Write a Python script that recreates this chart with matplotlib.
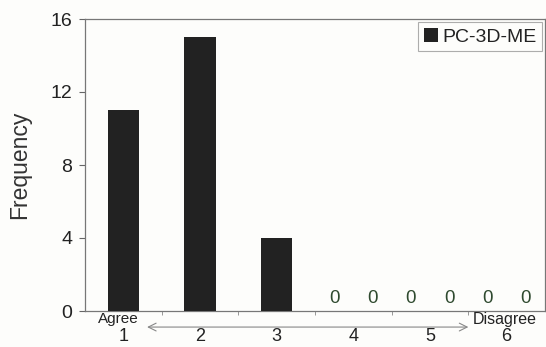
import matplotlib
matplotlib.use("Agg")
import matplotlib.pyplot as plt
import numpy as np

categories = [1, 2, 3, 4, 5, 6]
cat_labels = ["1", "2", "3", "4", "5", "6"]
values = [11, 15, 4, 0, 0, 0]
series_name = "PC-3D-ME"
zero_label_positions = [3.75, 4.25, 4.75, 5.25, 5.75, 6.25]
zero_labels = ["0", "0", "0", "0", "0", "0"]
yticks = [0, 4, 8, 12, 16]

plt.rcParams['font.family'] = ['Liberation Sans', 'DejaVu Sans']

fig = plt.figure(figsize=(5.46, 3.47), dpi=100, facecolor='#fdfdfb')
ax = fig.add_axes([85/546, 1-311/347, (545-85)/546, (311-19)/347])
ax.set_facecolor('#fdfdfb')

bars = [(c, v) for c, v in zip(categories, values) if v > 0]
ax.bar([b[0] for b in bars], [b[1] for b in bars], width=0.41,
       color='#222222', label=series_name, zorder=3)

for xp, t in zip(zero_label_positions, zero_labels):
    ax.text(xp, 0.2, t, ha='center', va='bottom', fontsize=13.5,
            color='#2f4a2f')

ax.set_xlim(0.5, 6.5)
ax.set_ylim(0, 16)
ax.set_yticks(yticks)
ax.set_xticks(categories)
ax.set_xticklabels(cat_labels, fontsize=13, color='#222222')
ax.set_xticks(np.arange(1.5, 6.5, 1.0), minor=True)
ax.tick_params(axis='x', which='major', length=0, pad=12.4)
ax.tick_params(axis='x', which='minor', length=3, color='#888888', direction='out')
ax.tick_params(axis='y', which='major', length=4, color='#666666', labelsize=14,
               labelcolor='#222222', pad=5)
for s in ax.spines.values():
    s.set_color('#777777')
    s.set_linewidth(0.9)

ax.set_ylabel("Frequency", fontsize=16.5, color='#333333', labelpad=14)

tr = ax.get_xaxis_transform()
ax.text(0.93, -0.005, "Agree", transform=tr, ha='center', va='top',
        fontsize=11, color='#222222', clip_on=False)
ax.text(5.98, -0.005, "Disagree", transform=tr, ha='center', va='top',
        fontsize=11.5, color='#222222', clip_on=False)
ax.annotate("", xy=(5.5, -0.055), xytext=(1.31, -0.055), xycoords=tr,
            textcoords=tr, annotation_clip=False,
            arrowprops=dict(arrowstyle='<->', color='#888888', lw=0.8,
                            mutation_scale=14, shrinkA=0, shrinkB=0))

leg = ax.legend(loc='upper right', fontsize=14, frameon=True, fancybox=False,
                handlelength=0.75, handleheight=0.75, handletextpad=0.2,
                borderpad=0.3, borderaxespad=0.15, edgecolor='#999999',
                facecolor='#fdfdfb')
leg.get_frame().set_linewidth(0.8)
for t in leg.get_texts():
    t.set_color('#222222')

fig.savefig("out.png", dpi=100, facecolor=fig.get_facecolor())
